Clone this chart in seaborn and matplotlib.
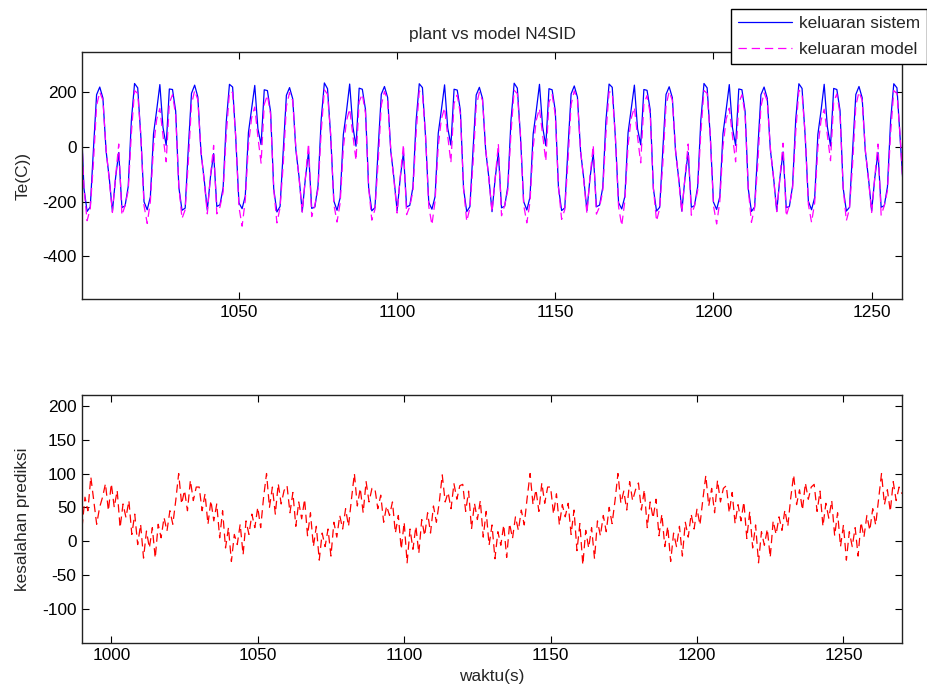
import numpy as np
import matplotlib
matplotlib.use("Agg")
import matplotlib.pyplot as plt
import seaborn as sns

# ---------------- data ----------------
t_top = np.arange(1000, 1261)          # time (s) for top panel
plant = [
    134, -151, -236, -220, -10, 190, 218, 178, -15, -114, -236, -114, -21, -222, -216, -145, 97, 231, 215, 35, -201, -230, -183, 47, 134, 227, 70, 5, 211, 209,
    130, -148, -232, -224, -5, 195, 225, 182, -20, -118, -232, -110, -25, -218, -212, -150, 92, 228, 218, 30, -205, -226, -180, 52, 138, 224, 65, 8, 208, 205,
    128, -155, -238, -218, -12, 188, 216, 175, -12, -110, -238, -116, -18, -225, -220, -142, 100, 233, 212, 38, -198, -232, -186, 44, 130, 229, 74, 2, 214, 210,
    136, -150, -234, -222, -8, 192, 220, 180, -16, -115, -234, -112, -22, -220, -214, -147, 95, 230, 216, 34, -203, -228, -182, 49, 135, 226, 68, 6, 210, 207,
    132, -153, -237, -219, -11, 189, 217, 176, -14, -113, -237, -115, -20, -223, -217, -144, 98, 232, 214, 36, -200, -231, -184, 46, 133, 228, 72, 4, 212, 208,
    131, -149, -233, -223, -7, 193, 222, 181, -18, -117, -233, -111, -24, -219, -213, -149, 94, 229, 217, 32, -204, -227, -181, 51, 137, 225, 66, 7, 209, 206,
    135, -152, -235, -221, -9, 191, 219, 179, -15, -114, -235, -113, -21, -221, -215, -146, 96, 231, 215, 35, -202, -229, -183, 48, 134, 227, 70, 5, 211, 208,
    129, -154, -236, -220, -10, 190, 218, 177, -13, -112, -236, -114, -19, -222, -218, -143, 99, 230, 213, 37, -199, -230, -185, 45, 131, 228, 73, 3, 213, 209,
    133, -151, -235, -221, -9, 191, 220, 179, -16, -115, -235, -113, -21, -221, -215, -146, 96, 230, 215, 34, -150,
]
model = [
    120, -150, -270, -226, -60, 150, 200, 170, -10, -120, -240, -110, 10, -250, -215, -160, 50, 205, 195, 40, -215, -280, -200, 0, 100, 140, 40, -55, 160, 190,
    115, -145, -262, -230, -55, 155, 205, 172, -15, -125, -245, -105, 5, -245, -220, -165, 45, 200, 198, 35, -220, -290, -195, 5, 105, 145, 35, -60, 155, 188,
    118, -155, -278, -222, -65, 148, 198, 168, -5, -115, -238, -115, 12, -255, -212, -155, 55, 208, 192, 45, -210, -275, -205, -5, 95, 138, 45, -50, 165, 192,
    122, -148, -268, -228, -58, 152, 202, 171, -12, -122, -242, -108, 8, -248, -218, -162, 48, 204, 196, 38, -218, -285, -198, 2, 102, 142, 38, -58, 158, 189,
    119, -152, -272, -224, -62, 149, 199, 169, -8, -118, -239, -112, 11, -252, -214, -158, 52, 206, 194, 42, -212, -278, -202, -2, 98, 139, 42, -52, 162, 191,
    116, -146, -265, -229, -56, 154, 204, 173, -14, -124, -244, -106, 6, -246, -219, -164, 46, 201, 197, 36, -219, -288, -196, 4, 104, 144, 36, -59, 156, 187,
    121, -151, -271, -225, -60, 151, 201, 170, -10, -120, -240, -110, 10, -250, -216, -160, 50, 205, 195, 40, -215, -282, -200, 0, 100, 141, 40, -55, 160, 190,
    117, -154, -276, -223, -64, 147, 197, 167, -6, -116, -237, -114, 13, -254, -213, -156, 54, 207, 193, 44, -211, -276, -204, -4, 96, 137, 44, -51, 164, 193,
    120, -150, -270, -226, -60, 150, 200, 170, -10, -120, -240, -110, 10, -250, -215, -160, 50, 205, 195, 40, -160,
]

t_err = np.arange(990, 1271)           # time (s) for bottom panel
error = [
    20, 65, 45, 95, 60, 25, 50, 65, 85, 45,
    85, 50, 75, 20, 55, 35, 60, 10, 40, -5, 25, -25, 15, -10, 20, -25, 25, 5, 35, 15, 45, 25, 60, 100, 55, 75, 45, 90, 60, 80,
    80, 45, 70, 25, 60, 30, 55, 5, 45, -10, 20, -30, 10, -5, 25, -20, 30, 10, 40, 20, 50, 20, 65, 100, 50, 80, 40, 85, 55, 75,
    82, 42, 72, 22, 58, 33, 62, 8, 42, -8, 22, -28, 12, -8, 18, -22, 28, 6, 38, 18, 48, 22, 62, 100, 52, 78, 42, 88, 58, 78,
    78, 48, 68, 28, 52, 38, 58, 12, 38, -12, 28, -32, 18, -12, 22, -18, 32, 8, 42, 12, 52, 28, 58, 98, 58, 72, 48, 85, 62, 82,
    84, 44, 74, 18, 56, 32, 60, 6, 44, -6, 24, -26, 14, -6, 24, -24, 26, 4, 36, 16, 46, 24, 64, 100, 54, 76, 44, 86, 56, 80,
    80, 40, 70, 24, 54, 36, 56, 10, 46, -14, 26, -35, 16, -10, 20, -26, 30, 8, 38, 14, 50, 26, 60, 100, 56, 74, 46, 88, 60, 76,
    86, 46, 76, 20, 58, 34, 62, 8, 40, -8, 22, -30, 12, -8, 22, -22, 28, 6, 40, 18, 48, 24, 62, 97, 52, 78, 42, 90, 58, 78,
    82, 42, 72, 26, 54, 30, 58, 4, 44, -10, 24, -32, 14, -6, 18, -24, 30, 10, 36, 16, 46, 22, 64, 98, 54, 76, 46, 86, 62, 80,
    84, 44, 74, 22, 56, 34, 60, 8, 42, -8, 24, -28, 14, -8, 20, -22, 28, 6, 38, 16, 48, 24, 62, 100, 54, 76, 44, 88, 60, 80, 70,
]

top_xticks = [1050, 1100, 1150, 1200, 1250]
top_yticks = [-400, -200, 0, 200]
bot_xticks = [1000, 1050, 1100, 1150, 1200, 1250]
bot_yticks = [-100, -50, 0, 50, 100, 150, 200]

# ---------------- style ----------------
sns.set_style("ticks")
plt.rcParams["font.family"] = ["Liberation Sans", "DejaVu Sans"]
plt.rcParams["axes.unicode_minus"] = False
plt.rcParams["lines.scale_dashes"] = False

FS = 12.4
fig = plt.figure(figsize=(9.28, 6.86), dpi=100)
ax1 = fig.add_axes([0.0884, 0.5641, 0.8836, 0.3601])
ax2 = fig.add_axes([0.0884, 0.0631, 0.8836, 0.3611])

sns.lineplot(x=t_top, y=plant, ax=ax1, color="#0000ff", linewidth=0.9,
             label="keluaran sistem", errorbar=None)
sns.lineplot(x=t_top, y=model, ax=ax1, color="#ff00ff", linewidth=0.9,
             linestyle="--", label="keluaran model", errorbar=None)
ax1.lines[1].set_dashes((6, 3.5))

sns.lineplot(x=t_err, y=error, ax=ax2, color="#ff0000", linewidth=0.9,
             linestyle="--", errorbar=None)
ax2.lines[0].set_dashes((6, 3.5))

for ax in (ax1, ax2):
    ax.tick_params(direction="in", length=5, width=0.8, top=True, right=True,
                   labelsize=FS, colors="black", pad=4)
    for s in ax.spines.values():
        s.set_linewidth(1.0)
        s.set_color("#222222")
        s.set_visible(True)
    ax.set_facecolor("white")
    ax.grid(False)

ax1.set_xlim(1000.4, 1259.6)
ax1.set_ylim(-556, 346)
ax1.set_xticks(top_xticks)
ax1.set_yticks(top_yticks)
ax1.set_title("plant vs model N4SID", fontsize=FS, pad=9)
ax1.set_ylabel("Te(C))", fontsize=FS)
ax1.yaxis.set_label_coords(-0.063, 0.5)
ax1.set_xlabel("")

ax2.set_xlim(990, 1270)
ax2.set_ylim(-150, 216)
ax2.set_xticks(bot_xticks)
ax2.set_yticks(bot_yticks)
ax2.set_ylabel("kesalahan prediksi", fontsize=FS)
ax2.yaxis.set_label_coords(-0.063, 0.5)
ax2.set_xlabel("waktu(s)", fontsize=FS)
ax2.xaxis.set_label_coords(0.5, -0.105)

handles, labels = ax1.get_legend_handles_labels()
if ax1.get_legend() is not None:
    ax1.get_legend().remove()
leg = fig.legend(handles, labels, loc="upper left",
                 bbox_to_anchor=(731 / 928, 1 - 9 / 686), frameon=True,
                 fancybox=False, edgecolor="black", framealpha=1,
                 handlelength=3.15, fontsize=FS, borderpad=0.42,
                 labelspacing=0.6, handletextpad=0.38, borderaxespad=0)
leg.get_frame().set_linewidth(1.0)

fig.savefig("out.png", dpi=100)
